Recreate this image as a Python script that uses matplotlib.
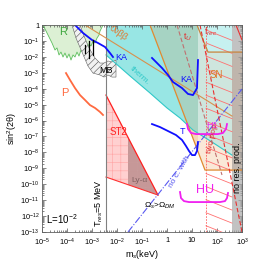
import numpy as np
import matplotlib
matplotlib.use('Agg')
import matplotlib.pyplot as plt
from matplotlib.patches import Polygon

plt.rcParams['font.family'] = ['Liberation Sans', 'DejaVu Sans']
plt.rcParams['mathtext.fontset'] = 'custom'
plt.rcParams['mathtext.rm'] = 'Liberation Sans'
plt.rcParams['mathtext.it'] = 'Liberation Sans:italic'
plt.rcParams['mathtext.bf'] = 'Liberation Sans:bold'
plt.rcParams['hatch.linewidth'] = 0.45

# every value below is log10(m_s / keV) or log10(sin^2 2theta)
R_lm = [-4.96, -4.8, -4.6, -4.48, -4.4, -4.32, -4.24, -4.16, -4.08, -4.0, -3.92, -3.84, -3.76, -3.68,
        -3.6, -3.52, -3.44, -3.36, -3.28, -3.2, -3.12, -3.04, -2.96, -2.88, -2.8, -2.72, -2.68, -2.6, -2.56]
R_ls = [0, -0.5, -1.13, -1.57, -1.44, -1.88, -1.7, -2.01, -1.76, -2.07, -1.82, -2.2, -1.88, -2.01,
        -1.7, -1.95, -1.57, -1.7, -1.38, -1.51, -1.19, -1.32, -1.01, -1.13, -0.82, -0.63, -0.38, -0.13, 0]

MB_lm = [-3.8, -3.64, -3.4, -3.16, -2.96, -2.68, -2.52, -2.36, -2.2, -2.04,
         -2.04, -2.2, -2.36, -2.52, -2.68, -2.88, -3.12, -3.32, -3.48]
MB_ls = [0, -0.82, -1.7, -2.58, -3.02, -3.14, -3.27, -3.14, -3.27, -3.27,
         -2.2, -2.32, -2.26, -2.39, -2.39, -2.07, -1.44, -0.69, 0]

KA1_lm = [-3.68, -3.36, -3.0, -2.76, -2.48, -2.28, -2.16]
KA1_ls = [0, -0.5, -0.94, -1.13, -1.38, -1.76, -2.01]
KA2_lm = [-0.6, -0.2, 0.04, 0.24, 0.6, 0.84, 1.04, 1.2, 1.24]
KA2_ls = [-2.07, -2.7, -3.14, -3.58, -3.96, -4.33, -4.4, -3.96, -2.2]
T_lm = [-0.6, -0.28, 0.04, 0.36, 0.6, 0.76, 0.88, 1.0, 1.12, 1.2, 1.24]
T_ls = [-6.22, -6.41, -6.66, -6.91, -7.22, -7.6, -7.91, -8.17, -8.17, -7.91, -7.35]
P_lm = [-4.04, -3.88, -3.68, -3.48, -3.28, -3.08, -2.88, -2.68, -2.56]
P_ls = [-3.02, -3.45, -3.96, -4.4, -4.71, -5.03, -5.21, -5.46, -5.65]

BAR_lm = [-3.28, -3.12, -2.96]
BAR_lo = [-1.76, -2.07, -1.88]
BAR_hi = [-1.26, -1.0, -0.94]

NUBB_lm = [-3.28, 2.6]
NUBB_ls = [0, -5.72]

TRES_lm = -2.44
SN_lm = [1.24, 2.6]
NORES_lm = [2.6, 3.0]
PV_lm = 1.56

CY_lm = [-2.44, -1.48, -0.68, 0.0, 0.52, 1.04, 1.8, 2.6]
CY_ls = [-1.88, -3.2, -4.27, -5.21, -5.84, -6.6, -7.35, -8.17]

ORG_lm = [-0.68, 1.2, 1.64, 3.0, 3.0, 1.52]
ORG_ls = [0, 0, -1.7, -1.7, -9.11, -9.11]

ST_lm = [-2.44, -0.36, -2.44]
ST_ls = [-4.4, -10.68, -9.55]
LY_lm = [-1.56, -0.36, -1.56]
LY_ls = [-7.06, -10.68, -10.03]

NC_lm = [-1.56, 3.0]
NC_ls = [-13.0, -4.02]
TU_lm = [0.4, 2.2]
TU_ls = [0, -9.42]
FR_lm = [1.32, 3.0]
FR_ls = [0, -13.0]
FR2_lm = [2.76, 3.0]
FR2_ls = [0, -0.94]

HL_lm = [1.56, 2.6]
HL_start = [-0.31, -1.13, -1.95, -2.77, -3.59, -4.41, -5.23, -6.05, -6.87,
            -7.69, -8.51, -9.33, -10.15, -10.97, -11.79, -12.61]
HL_drop = 0.65

H1_lm = [0.8, 0.84, 0.96, 1.16, 2.04, 2.24, 2.36, 2.4]
H1_ls = [-6.22, -6.53, -6.78, -6.85, -6.85, -6.78, -6.53, -6.22]
HU_lm = [0.52, 0.56, 0.68, 0.88, 2.12, 2.32, 2.4, 2.44]
HU_ls = [-10.49, -10.87, -11.06, -11.12, -11.12, -11.06, -10.87, -10.55]

xticks = [-5, -4, -3, -2, -1, 0, 1, 2, 3]
xticklabels = ['10$^{-5}$', '10$^{-4}$', '10$^{-3}$', '10$^{-2}$', '10$^{-1}$', '1', '10', '10$^{2}$', '10$^{3}$']
yticks = list(range(-13, 1))
yticklabels = ['10$^{%d}$' % k for k in yticks[:-1]] + ['1']


def P(xl, yl):
    return np.column_stack([10.0 ** np.asarray(xl, float), 10.0 ** np.asarray(yl, float)])


def line(xl, yl, **kw):
    xy = P(xl, yl)
    ax.plot(xy[:, 0], xy[:, 1], **kw)


def label(xl, yl, s, **kw):
    ax.text(10 ** xl, 10 ** yl, s, ha='center', va='center', **kw)


fig = plt.figure(figsize=(2.69, 2.60), dpi=100)
ax = fig.add_axes([42 / 269, 1 - 232 / 260, 200 / 269, 207 / 260])
ax.set_xscale('log')
ax.set_yscale('log')
ax.set_xlim(1e-5, 1e3)
ax.set_ylim(1e-13, 1)

# R region (green)
rxy = P(R_lm + [-2.44, -2.44], R_ls + [0, 0])
ax.add_patch(Polygon(rxy, closed=True, fc='#dcf0d4', ec='none', zorder=1))
line(R_lm, R_ls, color='#5cbf5c', lw=0.6, zorder=2)

# therm. region (cyan) and the orange region on top of it
cy = P([TRES_lm, CY_lm[-1]] + CY_lm[::-1], [0, 0] + CY_ls[::-1])
cyan = Polygon(cy, closed=True, fc='#98e6e4', ec='none', zorder=1)
ax.add_patch(cyan)
org_xy = P(ORG_lm, ORG_ls)
ax.add_patch(Polygon(org_xy, closed=True, fc='#f6d6b8', ec='none', zorder=1.1))
ov = Polygon(org_xy, closed=True, fc='#a6d3c3', ec='none', zorder=1.2)
ax.add_patch(ov)
ov.set_clip_path(cyan)
line(CY_lm, CY_ls, color='#30c8c8', lw=0.8, zorder=3)
line([ORG_lm[0], ORG_lm[5], ORG_lm[4]], [ORG_ls[0], ORG_ls[5], ORG_ls[4]], color='#e08a30', lw=0.9, zorder=3)
line(ORG_lm[1:4], ORG_ls[1:4], color='#c8843c', lw=0.9, zorder=3)

# SN region and no res. prod. band
ax.axvspan(10 ** SN_lm[0], 10 ** SN_lm[1], color='white', alpha=0.45, lw=0, zorder=1.5)
ax.axvspan(10 ** NORES_lm[0], 10 ** NORES_lm[1], color='#a8a8a8', alpha=0.7, lw=0, zorder=1.6)
for s0 in HL_start:
    line(HL_lm, [s0, s0 - HL_drop], color='#ff7070', lw=0.6, zorder=2)
ax.axvline(10 ** PV_lm, color='#ff6060', lw=0.6, linestyle=(0, (2, 1.5)), zorder=2)

# MB
ax.add_patch(Polygon(P(MB_lm, MB_ls), closed=True, fc='#f2f2f2', ec='#606060', hatch='/////', lw=0.4, zorder=2))

# ST2 and Ly-alpha
ax.add_patch(Polygon(P(ST_lm, ST_ls), closed=True, fc='#ffd0d0', ec='#ffa8a8', hatch='++', lw=0, zorder=2))
ax.add_patch(Polygon(P(LY_lm, LY_ls), closed=True, fc='#b88a8a', ec='#c8a0a0', hatch='++', lw=0, alpha=0.8, zorder=2.1))
line(ST_lm[:2], ST_ls[:2], color='#ff2020', lw=0.9, zorder=3)
line(ST_lm[1:], ST_ls[1:], color='#ff3030', lw=0.8, zorder=3)

# T_res line
ax.axvline(10 ** TRES_lm, color='#808080', lw=0.8, zorder=3)

# lines
line(NUBB_lm, NUBB_ls, color='#d8904c', lw=0.8, zorder=3)
line(NC_lm, NC_ls, color='#5858f0', lw=0.8, linestyle='-.', zorder=3)
line(TU_lm, TU_ls, color='#c07070', lw=0.8, linestyle=(0, (4, 2)), zorder=3)
line(FR_lm, FR_ls, color='#e83030', lw=0.8, linestyle=(0, (4, 2)), zorder=3)
line(FR2_lm, FR2_ls, color='#e83030', lw=0.8, zorder=3)
line(P_lm, P_ls, color='#ff6a40', lw=1.3, zorder=3)
line(KA1_lm, KA1_ls, color='#1010ff', lw=1.3, zorder=4)
line(KA2_lm, KA2_ls, color='#1010ff', lw=1.3, zorder=4)
line(T_lm, T_ls, color='#1010ff', lw=1.3, zorder=4)
for m, lo, hi in zip(BAR_lm, BAR_lo, BAR_hi):
    line([m, m], [lo, hi], color='black', lw=0.9, zorder=4)
line(H1_lm, H1_ls, color='#f020f0', lw=1.3, zorder=4)
line(HU_lm, HU_ls, color='#f020f0', lw=1.3, zorder=4)

# labels
label(-4.16, -0.44, 'R', color='#40a840', fontsize=8)
label(-4.08, -4.27, 'P', color='#ff6a40', fontsize=8)
label(-2.44, -2.83, 'MB', color='black', fontsize=6.5, zorder=5)
label(-1.84, -2.01, 'KA', color='#1010ff', fontsize=6.5, zorder=5)
label(0.76, -3.45, 'KA', color='#1010ff', fontsize=6.5, zorder=5)
label(-1.96, -0.5, '0νββ', color='#e07830', fontsize=6.5, rotation=-35, zorder=5)
label(-1.08, -3.2, 'therm.', color='#30c8c8', fontsize=6, rotation=-42, zorder=5)
label(0.84, -0.75, 't$_U$', color='#e03030', fontsize=6.5, zorder=5)
label(1.76, -0.44, 'f$_{rec}$', color='#e03030', fontsize=6.5, zorder=5)
label(1.96, -3.14, 'SN', color='#e07020', fontsize=7, zorder=5)
label(-1.96, -6.72, 'ST2', color='#ff2020', fontsize=7, zorder=5)
label(-1.08, -9.74, 'Ly-α', color='#806060', fontsize=6, zorder=5)
label(0.6, -6.66, 'T', color='#1010ff', fontsize=6.5, zorder=5)
label(1.8, -6.34, 'H1', color='#f020f0', fontsize=6.5, zorder=5)
label(1.52, -10.36, 'HU', color='#f020f0', fontsize=9, zorder=5)
label(1.84, -7.1, 'two pop.', color='#e03030', fontsize=6, rotation=78, zorder=5)
label(0.52, -9.23, 'no c. with', color='#5858f0', fontsize=6, rotation=60, zorder=5)
label(-0.28, -11.37, 'Ω$_s$>Ω$_{DM}$', color='black', fontsize=6, zorder=5)
label(-2.72, -11.18, 'T$_{res}$=5 MeV', color='black', fontsize=6.5, rotation=90, zorder=5)
label(-4.2, -12.19, 'L=10$^{-2}$', color='black', fontsize=7, zorder=5)
label(2.8, -8.98, 'no res. prod.', color='black', fontsize=6.5, rotation=90, zorder=5)

# axes
ax.set_xticks([10.0 ** k for k in xticks])
ax.set_xticklabels(xticklabels)
ax.set_yticks([10.0 ** k for k in yticks])
ax.set_yticklabels(yticklabels)
ax.xaxis.set_minor_locator(matplotlib.ticker.LogLocator(base=10, subs=np.arange(2, 10), numticks=20))
ax.yaxis.set_minor_locator(matplotlib.ticker.LogLocator(base=10, subs=np.arange(2, 10), numticks=30))
ax.yaxis.set_minor_formatter(matplotlib.ticker.NullFormatter())
ax.xaxis.set_minor_formatter(matplotlib.ticker.NullFormatter())
ax.tick_params(which='both', direction='in', top=True, right=True, labelsize=5.3, width=0.5, color='#555555')
ax.tick_params(axis='x', which='major', pad=3.5)
ax.tick_params(axis='y', which='major', pad=2)
ax.tick_params(which='major', length=3)
ax.tick_params(which='minor', length=1.5)
for sp in ax.spines.values():
    sp.set_linewidth(0.6)
    sp.set_color('#606060')
    sp.set_zorder(6)
ax.set_xlabel('m$_s$(keV)', fontsize=6.5, labelpad=0)
ax.set_ylabel('sin$^2$(2θ)', fontsize=6.5, labelpad=1)

fig.savefig('out.png', dpi=100)
